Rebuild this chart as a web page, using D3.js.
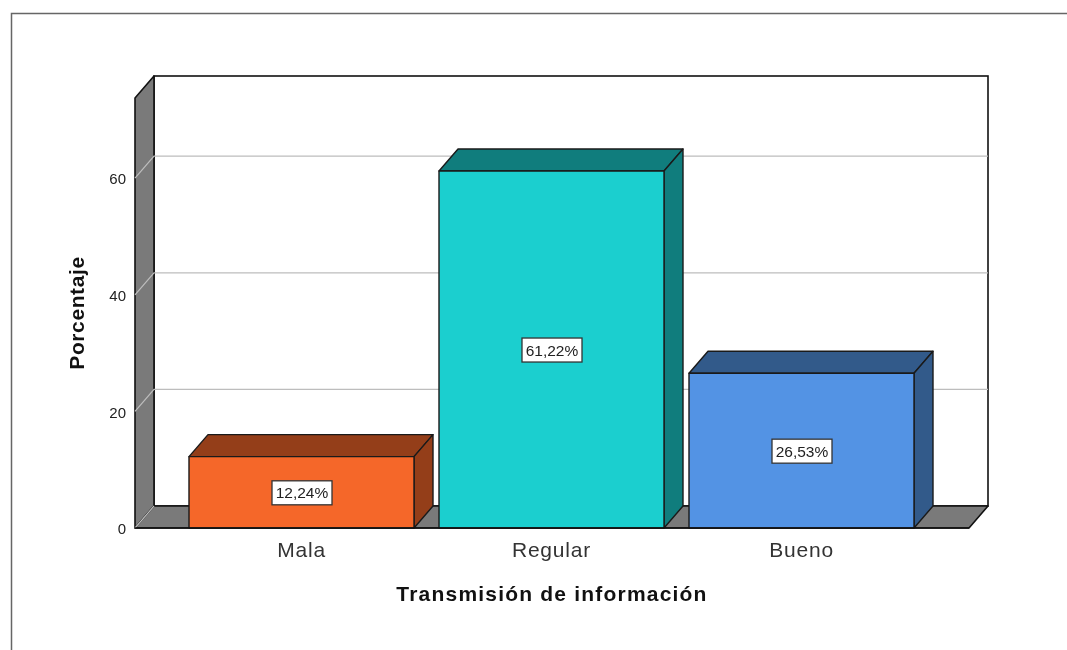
<!DOCTYPE html>
<html><head><meta charset="utf-8">
<script src="https://cdn.jsdelivr.net/npm/d3@7"></script>
<style>html,body{margin:0;padding:0;background:#fff}svg{display:block;filter:blur(0.4px)}text{font-family:"Liberation Sans",Arial,sans-serif}</style>
</head><body><div id="c"></div>
<script>
const categories = ["Mala","Regular","Bueno"];
const values = [12.24,61.22,26.53];
const valueLabels = ["12,24%","61,22%","26,53%"];
const frontColors = ["#F56729","#1BCFCF","#5393E4"];
const darkColors = ["#943E19","#107D7D","#325A8A"];
const yTicks = [0,20,40,60];
const xTitle = "Transmisión de información";
const yTitle = "Porcentaje";

const W=1067,H=650;
const svg=d3.select("#c").append("svg").attr("width",W).attr("height",H);
const dx=19,dy=-22;
const plotL=135,plotR=969,plotB=528,plotT=98;
const y=d3.scaleLinear().domain([0,73.75]).range([plotB,plotT]);
const x=d3.scaleBand().domain(categories).range([176.5,926.5]).paddingInner(0.1).paddingOuter(0.05);
const pts=a=>a.map(p=>p.join(",")).join(" ");

// outer frame
svg.append("path").attr("d",`M11.5,${H} V13.5 H${W}`).attr("fill","none").attr("stroke","#666").attr("stroke-width",1.5);

const edge="#111";
// back wall
svg.append("rect").attr("x",plotL+dx).attr("y",plotT+dy).attr("width",plotR-plotL).attr("height",plotB-plotT)
  .attr("fill","#fff").attr("stroke",edge).attr("stroke-width",1.6);
// left wall
svg.append("polygon").attr("points",pts([[plotL,plotB],[plotL,plotT],[plotL+dx,plotT+dy],[plotL+dx,plotB+dy]]))
  .attr("fill","#7A7A7A").attr("stroke",edge).attr("stroke-width",1.6).attr("stroke-linejoin","round");
// floor
svg.append("polygon").attr("points",pts([[plotL,plotB],[plotL+dx,plotB+dy],[plotR+dx,plotB+dy],[plotR,plotB]]))
  .attr("fill","#7A7A7A").attr("stroke",edge).attr("stroke-width",1.6).attr("stroke-linejoin","round");
// gridlines
svg.append("g").selectAll("path").data(yTicks).join("path")
  .attr("d",d=>d===0?`M${plotL},${y(d)} L${plotL+dx},${y(d)+dy}`:`M${plotL},${y(d)} L${plotL+dx},${y(d)+dy} H${plotR+dx}`)
  .attr("fill","none").attr("stroke","#BDBDBD").attr("stroke-width",1.2);

// axis
const ax=svg.append("g").attr("transform",`translate(${plotL},1)`)
  .call(d3.axisLeft(y).tickValues(yTicks).tickSize(0).tickPadding(9));
ax.select(".domain").remove();
ax.selectAll("text").attr("font-size",15).attr("fill","#222").style("font-family",'"Liberation Sans",Arial,sans-serif');

// bars
const bars=svg.append("g").selectAll("g").data(categories).join("g");
bars.each(function(c,i){
  const g=d3.select(this),x0=x(c),x1=x0+x.bandwidth(),y1=y(values[i]),b=y(0);
  const st=s=>s.attr("stroke","#1a1a1a").attr("stroke-width",1.4).attr("stroke-linejoin","round");
  st(g.append("polygon").attr("points",pts([[x0,y1],[x0+dx,y1+dy],[x1+dx,y1+dy],[x1,y1]])).attr("fill",darkColors[i]));
  st(g.append("polygon").attr("points",pts([[x1,y1],[x1+dx,y1+dy],[x1+dx,b+dy],[x1,b]])).attr("fill",darkColors[i]));
  st(g.append("rect").attr("x",x0).attr("y",y1).attr("width",x.bandwidth()).attr("height",b-y1).attr("fill",frontColors[i]));
  const cx=x0+x.bandwidth()/2+0.5,cy=(y1+b)/2+0.5;
  g.append("rect").attr("x",cx-30).attr("y",cy-12).attr("width",60).attr("height",24)
    .attr("fill","#fff").attr("stroke","#333").attr("stroke-width",1.3);
  g.append("text").attr("x",cx).attr("y",cy+5.5).attr("text-anchor","middle").attr("font-size",15.5).attr("fill","#222").text(valueLabels[i]);
});
// category labels
const cax=svg.append("g").attr("transform",`translate(0,${plotB})`).call(d3.axisBottom(x).tickSize(0).tickPadding(14));
cax.select(".domain").attr("stroke","#111").attr("stroke-width",1.6).attr("d",`M${plotL},0 H${plotR}`);
cax.selectAll("text").attr("font-size",21).attr("letter-spacing",0.8).attr("fill","#333").style("font-family",'"Liberation Sans",Arial,sans-serif');
// titles
svg.append("text").attr("x",552).attr("y",601).attr("text-anchor","middle").attr("font-size",21).attr("letter-spacing",1.2).attr("font-weight","bold").attr("fill","#111").text(xTitle);
svg.append("text").attr("transform","translate(84,313) rotate(-90)").attr("text-anchor","middle").attr("font-size",21).attr("letter-spacing",0.6).attr("font-weight","bold").attr("fill","#111").text(yTitle);
</script></body></html>
